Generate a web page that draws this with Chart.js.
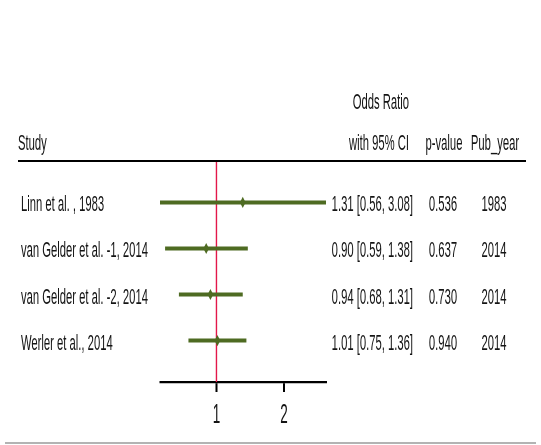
<!DOCTYPE html>
<html>
<head>
<meta charset="utf-8">
<script src="https://cdn.jsdelivr.net/npm/chart.js@4.4.1/dist/chart.umd.min.js"></script>
<style>
  html, body { margin: 0; padding: 0; background: #fff; overflow: hidden; }
  #wrap { width: 541px; height: 445px; overflow: hidden; }
  #inner { transform-origin: 0 0; }
  canvas { display: block; }
</style>
</head>
<body>
<div id="wrap"><div id="inner"><canvas id="forest"></canvas></div></div>
<script>
// Study data
const studies = ["Linn et al. , 1983", "van Gelder et al. -1, 2014", "van Gelder et al. -2, 2014", "Werler et al., 2014"];
const oddsRatios = [1.31, 0.90, 0.94, 1.01];
const ciLower = [0.56, 0.59, 0.68, 0.75];
const ciUpper = [3.08, 1.38, 1.31, 1.36];
const pValues = ["0.536", "0.637", "0.730", "0.940"];
const pubYears = ["1983", "2014", "2014", "2014"];
const tickValues = [1, 2];
const headers = { study: "Study", or1: "Odds Ratio", or2: "with 95% CI", p: "p-value", year: "Pub_year" };

// The plot is laid out wide and squeezed horizontally for a condensed look
const SX = 0.5;
const W = Math.round(541 / SX), H = 445;
const X = v => v / SX;

const canvas = document.getElementById('forest');
canvas.width = W; canvas.height = H;
canvas.style.width = W + 'px'; canvas.style.height = H + 'px';
document.getElementById('inner').style.transform = 'scaleX(' + SX + ')';

const GREEN = '#4e6b22';
const RED = '#e3174a';
const INK = '#141414';
const FONT = '"Liberation Sans", Arial, sans-serif';
const TEXT_SIZE = 22.5;
const Y_MIN = -0.9, Y_MAX = studies.length - 0.1;

const datasets = [];
// null line at OR = 1
datasets.push({
  data: [{x: 1, y: Y_MIN}, {x: 1, y: Y_MAX}],
  showLine: true, borderColor: RED, borderWidth: X(1.4), pointRadius: 0, order: 3
});
// confidence intervals
studies.forEach((s, i) => {
  datasets.push({
    data: [{x: ciLower[i], y: i}, {x: ciUpper[i], y: i}],
    showLine: true, borderColor: GREEN, borderWidth: 4, borderCapStyle: 'butt',
    pointRadius: 0, order: 2
  });
});
// point estimates
datasets.push({
  data: oddsRatios.map((v, i) => ({x: v, y: i})),
  pointStyle: 'rectRot', pointRadius: 5.6, backgroundColor: GREEN, borderColor: GREEN,
  borderWidth: 0, order: 1
});

const textPlugin = {
  id: 'forestText',
  afterDraw(chart) {
    const ctx = chart.ctx;
    const ys = chart.scales.y;
    ctx.save();
    ctx.fillStyle = INK;
    ctx.font = TEXT_SIZE + 'px ' + FONT;
    ctx.textBaseline = 'alphabetic';
    // headers
    ctx.textAlign = 'left';
    ctx.fillText(headers.study, X(18), 150);
    ctx.textAlign = 'right';
    ctx.fillText(headers.or1, X(409), 109);
    ctx.fillText(headers.or2, X(409), 150);
    ctx.textAlign = 'center';
    ctx.fillText(headers.p, X(444), 150);
    ctx.fillText(headers.year, X(495), 150);
    // rows
    studies.forEach((s, i) => {
      const y = ys.getPixelForValue(i) + 9;
      ctx.textAlign = 'left';
      ctx.fillText(s, X(21), y);
      ctx.textAlign = 'right';
      const ci = oddsRatios[i].toFixed(2) + ' [' + ciLower[i].toFixed(2) + ', ' + ciUpper[i].toFixed(2) + ']';
      ctx.fillText(ci, X(413), y);
      ctx.textAlign = 'center';
      ctx.fillText(pValues[i], X(443), y);
      ctx.fillText(pubYears[i], X(494), y);
    });
    // header rule
    ctx.strokeStyle = '#000';
    ctx.lineWidth = 2.2;
    ctx.beginPath();
    ctx.moveTo(X(18), 161); ctx.lineTo(X(526), 161);
    ctx.stroke();
    // bottom rule
    ctx.strokeStyle = '#9a9a9a';
    ctx.lineWidth = 1.6;
    ctx.beginPath();
    ctx.moveTo(X(5), 443); ctx.lineTo(X(536), 443);
    ctx.stroke();
    ctx.restore();
  }
};

new Chart(canvas, {
  type: 'scatter',
  data: { datasets },
  options: {
    responsive: false,
    animation: false,
    clip: false,
    layout: { padding: { left: X(160), right: W - X(326), top: 161, bottom: 0 } },
    plugins: { legend: { display: false }, tooltip: { enabled: false } },
    scales: {
      x: {
        type: 'logarithmic',
        min: ciLower.reduce((a, b) => Math.min(a, b)),
        max: ciUpper.reduce((a, b) => Math.max(a, b)),
        afterBuildTicks: scale => { scale.ticks = tickValues.map(v => ({value: v})); },
        afterFit: scale => { scale.height = H - 382; },
        border: { display: true, color: '#000', width: 2.2 },
        grid: { drawOnChartArea: false, drawTicks: true, tickLength: 10, color: '#000', lineWidth: X(2) },
        ticks: {
          color: INK, font: { family: FONT, size: 27 }, padding: 7,
          maxRotation: 0, autoSkip: false,
          callback: v => String(v)
        }
      },
      y: {
        type: 'linear', reverse: true, min: Y_MIN, max: Y_MAX, display: false
      }
    }
  },
  plugins: [textPlugin]
});
</script>
</body>
</html>
